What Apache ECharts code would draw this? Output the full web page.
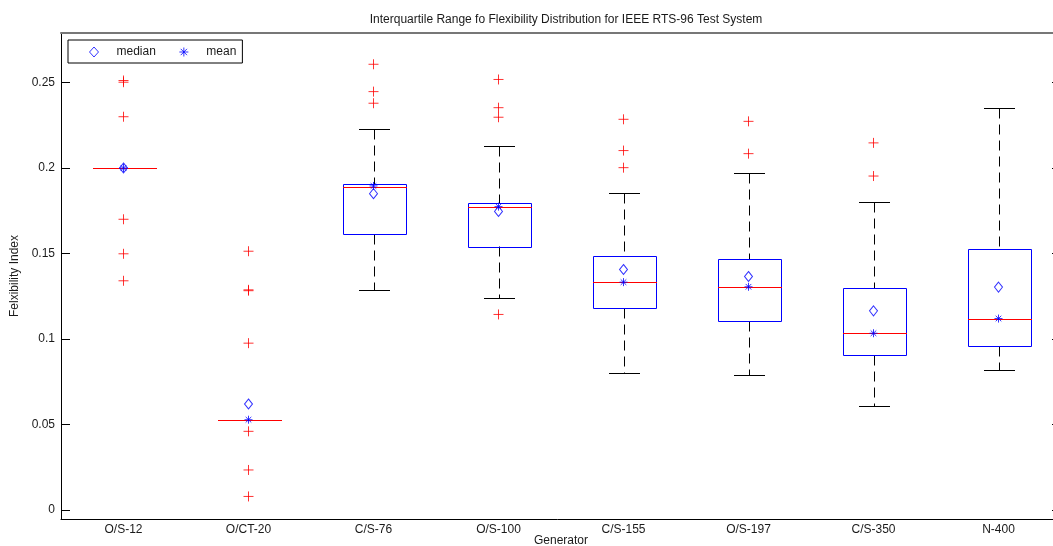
<!DOCTYPE html>
<html>
<head>
<meta charset="utf-8">
<script src="https://cdn.jsdelivr.net/npm/echarts@6/dist/echarts.min.js"></script>
<style>
  html, body { margin: 0; padding: 0; background: #fff; }
  #chart { width: 1053px; height: 546px; }
</style>
</head>
<body>
<div id="chart"></div>
<script>
const categories = ['O/S-12', 'O/CT-20', 'C/S-76', 'O/S-100', 'C/S-155', 'O/S-197', 'C/S-350', 'N-400'];

// box statistics per generator
const whiskerLow = [0.2, 0.0527, 0.1287, 0.1242, 0.0799, 0.0787, 0.0605, 0.0816];
const q1 = [0.2, 0.0527, 0.1615, 0.1541, 0.1182, 0.1103, 0.0904, 0.0959];
const medianLine = [0.2, 0.0527, 0.1891, 0.1774, 0.1332, 0.1305, 0.1033, 0.1119];
const q3 = [0.2, 0.0527, 0.1908, 0.1797, 0.1486, 0.1465, 0.1297, 0.1527];
const whiskerHigh = [0.2, 0.0527, 0.2231, 0.2131, 0.1853, 0.1971, 0.1803, 0.2351];

// markers as drawn (legend: diamond = median, star = mean)
const diamondVals = [0.2, 0.0619, 0.185, 0.1746, 0.1406, 0.1365, 0.1164, 0.1303];
const starVals = [0.2, 0.0527, 0.1895, 0.1774, 0.1332, 0.1305, 0.1033, 0.1119];

const outliers = [
  [0.2512, 0.2502, 0.230, 0.170, 0.1498, 0.134],
  [0.1513, 0.1287, 0.1282, 0.0975, 0.0459, 0.0233, 0.0078],
  [0.2607, 0.2447, 0.2379],
  [0.2518, 0.2353, 0.2297, 0.1143],
  [0.2285, 0.2102, 0.2002],
  [0.2273, 0.2084],
  [0.2147, 0.1953],
  []
];

const yTicks = [0, 0.05, 0.1, 0.15, 0.2, 0.25];
const Y_MIN = -0.0054;
const Y_MAX = 0.279;

const FONT = '"Liberation Sans", Arial, sans-serif';
const PLUS = 'path://M0,5L10,5M5,0L5,10';
const STAR = 'path://M5,0L5,10M0,5L10,5M1.5,1.5L8.5,8.5M8.5,1.5L1.5,8.5';

const boxData = categories.map((c, i) => [i, whiskerLow[i], q1[i], medianLine[i], q3[i], whiskerHigh[i]]);
const outlierPoints = [];
outliers.forEach((list, i) => list.forEach((v) => outlierPoints.push([i, v])));

const crisp = (v) => Math.round(v) + 0.5;

function renderBox(params, api) {
  const i = api.value(0);
  const band = api.size([1, 0])[0];
  const lo = api.coord([i, api.value(1)]);
  const b1 = api.coord([i, api.value(2)]);
  const md = api.coord([i, api.value(3)]);
  const b3 = api.coord([i, api.value(4)]);
  const hi = api.coord([i, api.value(5)]);
  const x = crisp(lo[0]);
  const bw = band * 0.25;
  const cw = band * 0.125;
  const black = { stroke: '#000', lineWidth: 1 };
  const dashed = { stroke: '#000', lineWidth: 1, lineDash: [10, 6] };
  const children = [];
  if (hi[1] < b3[1] - 1) {
    children.push(
      { type: 'line', z2: 1, shape: { x1: x, y1: crisp(hi[1]), x2: x, y2: crisp(b3[1]) }, style: dashed },
      { type: 'line', z2: 1, shape: { x1: x, y1: crisp(b1[1]), x2: x, y2: crisp(lo[1]) }, style: dashed },
      { type: 'line', z2: 2, shape: { x1: Math.round(x - cw), y1: crisp(hi[1]), x2: Math.round(x + cw), y2: crisp(hi[1]) }, style: black },
      { type: 'line', z2: 2, shape: { x1: Math.round(x - cw), y1: crisp(lo[1]), x2: Math.round(x + cw), y2: crisp(lo[1]) }, style: black }
    );
  }
  if (b1[1] - b3[1] >= 1) {
    children.push({
      type: 'rect',
      z2: 3,
      shape: { x: crisp(x - bw), y: crisp(b3[1]), width: Math.round(bw * 2), height: Math.round(b1[1] - b3[1]) },
      style: { fill: 'none', stroke: '#0000ff', lineWidth: 1 }
    });
  }
  children.push({
    type: 'line',
    z2: 4,
    shape: { x1: Math.round(x - bw), y1: crisp(md[1]), x2: Math.round(x + bw) + 1, y2: crisp(md[1]) },
    style: { stroke: '#ff0000', lineWidth: 1 }
  });
  return { type: 'group', children };
}

const chart = echarts.init(document.getElementById('chart'), null, { renderer: 'canvas' });

chart.setOption({
  animation: false,
  backgroundColor: '#fff',
  textStyle: { fontFamily: FONT },
  title: {
    text: 'Interquartile Range fo Flexibility Distribution for IEEE RTS-96 Test System',
    left: 561,
    top: 9,
    textAlign: 'center',
    textStyle: { fontFamily: FONT, fontSize: 12, fontWeight: 'normal', color: '#1a1a1a' }
  },
  legend: {
    data: ['median', 'mean'],
    left: 68,
    top: 40,
    orient: 'horizontal',
    backgroundColor: '#fff',
    borderColor: '#000',
    borderWidth: 1,
    borderRadius: 0,
    padding: [5, 6, 4, 21],
    itemWidth: 9,
    itemHeight: 10,
    itemGap: 21,
    itemStyle: { borderWidth: 1 },
    textStyle: { fontFamily: FONT, fontSize: 12, color: '#1a1a1a', padding: [0, 0, 0, 13] }
  },
  grid: { left: 61, top: 33, width: 1000, height: 486, containLabel: false, outerBoundsMode: 'none' },
  xAxis: [
    {
      type: 'category',
      data: categories,
      position: 'bottom',
      axisLine: { onZero: false, lineStyle: { color: '#000', width: 1 } },
      axisTick: { show: false },
      axisLabel: { fontFamily: FONT, fontSize: 12, color: '#1a1a1a', margin: 5 },
      splitLine: { show: false },
      name: 'Generator',
      nameLocation: 'middle',
      nameGap: 16,
      nameMoveOverlap: false,
      nameTextStyle: { fontFamily: FONT, fontSize: 12, color: '#1a1a1a' }
    },
    {
      type: 'category',
      data: categories,
      position: 'top',
      axisLine: { onZero: false, lineStyle: { color: '#777', width: 2 } },
      axisTick: { show: false },
      axisLabel: { show: false },
      splitLine: { show: false }
    }
  ],
  yAxis: [
    {
      type: 'value',
      min: Y_MIN,
      max: Y_MAX,
      position: 'left',
      axisLine: { show: true, onZero: false, lineStyle: { color: '#000', width: 1 } },
      axisTick: { show: true, inside: true, length: 9, lineStyle: { color: '#000' }, customValues: yTicks },
      axisLabel: { fontFamily: FONT, fontSize: 12, color: '#1a1a1a', margin: 6, customValues: yTicks },
      splitLine: { show: false },
      name: 'Felxibility Index',
      nameLocation: 'middle',
      nameGap: 33,
      nameTextStyle: { fontFamily: FONT, fontSize: 12, color: '#1a1a1a' }
    },
    {
      type: 'value',
      min: Y_MIN,
      max: Y_MAX,
      position: 'right',
      axisLine: { show: true, onZero: false, lineStyle: { color: '#000', width: 1 } },
      axisTick: { show: true, inside: true, length: 9, lineStyle: { color: '#000' }, customValues: yTicks },
      axisLabel: { show: false },
      splitLine: { show: false }
    }
  ],
  series: [
    {
      name: 'box',
      type: 'custom',
      renderItem: renderBox,
      data: boxData,
      encode: { x: 0, y: [1, 2, 3, 4, 5] },
      z: 2
    },
    {
      name: 'outlier',
      type: 'scatter',
      data: outlierPoints,
      symbol: PLUS,
      symbolSize: 10,
      itemStyle: { color: 'none', borderColor: '#ff0000', borderWidth: 1 },
      z: 3
    },
    {
      name: 'median',
      type: 'scatter',
      data: diamondVals.map((v, i) => [i, v]),
      symbol: 'diamond',
      symbolSize: [8, 10],
      itemStyle: { color: 'rgba(255,255,255,0)', borderColor: '#0000ff', borderWidth: 1 },
      z: 4
    },
    {
      name: 'mean',
      type: 'scatter',
      data: starVals.map((v, i) => [i, v]),
      symbol: STAR,
      symbolSize: 8,
      itemStyle: { color: 'none', borderColor: '#0000ff', borderWidth: 1 },
      z: 5
    }
  ]
});
</script>
</body>
</html>
